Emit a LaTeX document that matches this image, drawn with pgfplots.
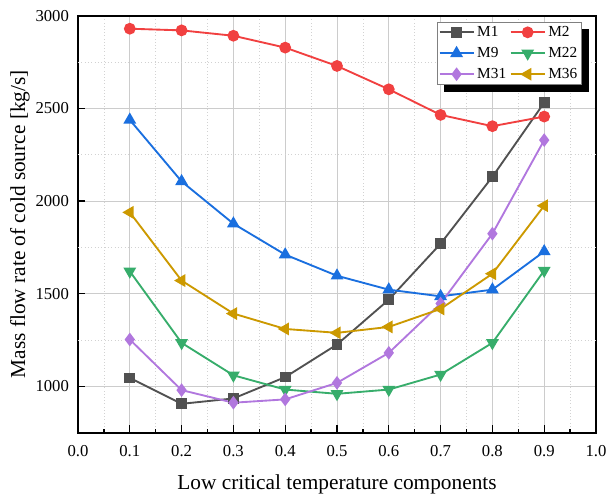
\documentclass[border=0pt]{standalone}
\usepackage{fontspec}
\setmainfont{Liberation Serif}
\usepackage{pgfplots}
\pgfplotsset{compat=1.18}

\definecolor{cMa}{HTML}{515151}
\definecolor{cMb}{HTML}{F14040}
\definecolor{cMc}{HTML}{1A6FDF}
\definecolor{cMd}{HTML}{37AD6B}
\definecolor{cMe}{HTML}{B177DE}
\definecolor{cMf}{HTML}{CC9900}

\begin{document}
\begin{tikzpicture}
\begin{axis}[
    name=ax,
    scale only axis,
    width=388.5pt, height=312.75pt,
    xmin=0, xmax=1, ymin=750, ymax=3000,
    xtick={0,0.1,0.2,0.3,0.4,0.5,0.6,0.7,0.8,0.9,1.0},
    ytick={1000,1500,2000,2500,3000},
    minor x tick num=1,
    xmajorgrids, xminorgrids, ymajorgrids,
    extra y ticks={1250,1750,2250,2750},
    extra y tick labels={},
    extra y tick style={grid=major, major grid style={gray!35, dotted, line width=0.5pt}, tick style={draw=none}},
    major grid style={gray!40, line width=0.5pt},
    minor grid style={gray!35, dotted, line width=0.5pt},
    tick align=inside, xtick pos=bottom, ytick pos=left,
    axis line style={line width=1.4pt},
    every tick/.style={black, line width=1pt},
    major tick length=5.5pt, minor tick length=3pt,
    /pgf/number format/assume math mode=true,
    xticklabel style={/pgf/number format/.cd, fixed, fixed zerofill, precision=1, /tikz/.cd, anchor=base, yshift=-18pt},
    scaled y ticks=false,
    yticklabel style={/pgf/number format/1000 sep={}, xshift=-3.3pt},
    tick label style={font=\fontsize{12.5}{13}\selectfont},
    xlabel={Low critical temperature components},
    ylabel={Mass flow rate of cold source [kg/s]},
    xlabel style={font=\fontsize{16}{17}\selectfont, at={(axis description cs:0.5,-0.1367)}, anchor=base},
    ylabel style={font=\fontsize{16}{17}\selectfont, at={(axis description cs:-0.112,0.5)}, anchor=center},
    legend columns=2,
    legend cell align=left,
    legend style={name=leg, at={(0.693,0.985)}, anchor=north west, draw=gray, fill=white,
        font=\fontsize{11.5}{12}\selectfont, inner sep=1pt, row sep=2.6pt,
        /tikz/every even column/.append style={column sep=0.6pt}},
    legend image code/.code={\draw[mark repeat=2, mark phase=2] plot coordinates {(0cm,0cm) (0.45cm,0cm) (0.9cm,0cm)};},
    every axis plot/.append style={line width=1.4pt, mark size=3.3pt},
]
\addplot[cMa, mark=square*] coordinates {
    (0.1,1046) (0.2,906) (0.3,935) (0.4,1050) (0.5,1226)
    (0.6,1468) (0.7,1770) (0.8,2131) (0.9,2531)
};
\addplot[cMb, mark=*, mark size=3.7pt] coordinates {
    (0.1,2930) (0.2,2921) (0.3,2892) (0.4,2828) (0.5,2729)
    (0.6,2603) (0.7,2465) (0.8,2404) (0.9,2456)
};
\addplot[cMc, mark=triangle*, mark size=4.2pt] coordinates {
    (0.1,2438) (0.2,2106) (0.3,1878) (0.4,1711) (0.5,1597)
    (0.6,1522) (0.7,1486) (0.8,1522) (0.9,1728)
};
\addplot[cMd, mark=triangle*, mark size=4.2pt, mark options={rotate=180}] coordinates {
    (0.1,1621) (0.2,1235) (0.3,1060) (0.4,983) (0.5,960)
    (0.6,983) (0.7,1064) (0.8,1235) (0.9,1625)
};
\addplot[cMe, mark=diamond*, mark size=4pt] coordinates {
    (0.1,1253) (0.2,980) (0.3,912) (0.4,930) (0.5,1019)
    (0.6,1181) (0.7,1447) (0.8,1824) (0.9,2329)
};
\addplot[cMf, mark=triangle*, mark size=4.2pt, mark options={rotate=90}] coordinates {
    (0.1,1939) (0.2,1571) (0.3,1393) (0.4,1310) (0.5,1289)
    (0.6,1321) (0.7,1418) (0.8,1608) (0.9,1975)
};
\legend{M1, M2, M9, M22, M31, M36}
\end{axis}
% legend shadow: bottom and right strips hugging the legend box
\path[fill=black] ([xshift=5pt,yshift=-0.2pt]leg.south west) rectangle ([xshift=5.3pt,yshift=-5.3pt]leg.south east);
\path[fill=black] ([xshift=0.2pt,yshift=-5pt]leg.north east) rectangle ([xshift=5.3pt,yshift=-5.3pt]leg.south east);
\pgfresetboundingbox
\path ([xshift=-58.5pt,yshift=-48.75pt]ax.south west) rectangle ([xshift=9pt,yshift=11.8pt]ax.north east);
\end{tikzpicture}
\end{document}
